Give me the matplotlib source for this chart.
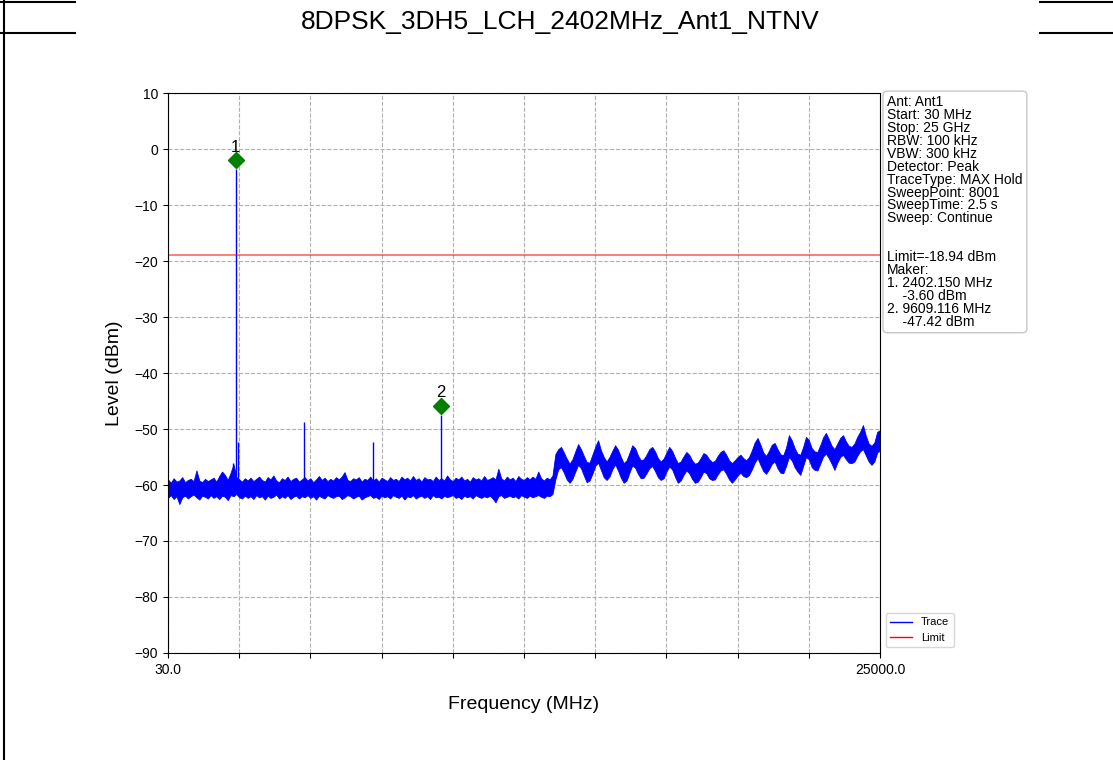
import numpy as np
import matplotlib.pyplot as plt
from matplotlib.lines import Line2D

plt.rcParams['font.family'] = ['Liberation Sans', 'DejaVu Sans']

# sweep: 30 MHz .. 25 GHz, trace envelope (upper / lower edge of the noise band)
freq = np.linspace(30, 25000, 251)

trace_hi = [
    -59.0, -59.6, -58.8, -59.4, -59.2, -58.6, -59.5, -59.1, -58.9, -59.3,
    -57.4, -59.2, -59.5, -58.9, -59.3, -59.0, -58.7, -59.4, -58.4, -57.6,
    -58.2, -59.1, -57.8, -56.3, -58.6, -59.0, -59.4, -58.8, -59.2, -58.7,
    -59.3, -58.9, -58.5, -59.1, -59.4, -58.6, -59.0, -58.3, -59.2, -59.5,
    -58.8, -59.1, -58.5, -59.3, -58.9, -58.7, -59.4, -59.0, -58.6, -59.2,
    -58.8, -59.5, -59.0, -58.4, -59.1, -58.7, -59.3, -58.9, -59.2, -58.6,
    -59.0, -58.5, -57.7, -59.1, -59.3, -58.8, -59.0, -58.6, -59.4, -58.9,
    -59.1, -58.5, -59.2, -58.8, -59.4, -58.7, -59.0, -59.3, -58.6, -59.1,
    -58.9, -59.3, -58.5, -59.0, -58.7, -59.2, -58.4, -59.1, -58.8, -59.4,
    -58.6, -59.0, -58.9, -59.3, -58.5, -59.1, -58.8, -59.2, -58.3, -59.0,
    -59.3, -58.7, -59.0, -58.5, -59.2, -58.9, -59.4, -58.6, -59.0, -58.8,
    -59.2, -58.4, -59.1, -58.9, -58.6, -59.0, -57.1, -58.8, -59.2, -58.5,
    -59.0, -58.7, -59.3, -58.4, -58.9, -59.1, -58.6, -59.0, -58.5, -58.9,
    -57.6, -58.8, -59.2, -58.7, -59.0, -58.3,
    -54.5, -53.6, -53.2, -54.2, -55.3, -56.2, -55.4, -54.0, -52.7, -53.6,
    -54.8, -55.9, -56.0, -54.6, -53.2, -52.0, -53.8, -55.0, -55.8, -55.0,
    -53.9, -52.9, -53.7, -55.0, -56.1, -55.6, -54.3, -52.9, -53.4, -54.7,
    -55.6, -55.4, -54.6, -53.6, -53.2, -54.0, -55.2, -55.8, -55.3, -54.2,
    -53.2, -53.9, -55.1, -56.1, -55.8, -54.9, -54.1, -54.6, -55.6, -56.2,
    -56.0, -55.2, -54.3, -54.6, -55.4, -55.9, -55.7, -54.8, -54.1, -53.8,
    -54.6, -55.6, -56.1, -55.6, -55.0, -54.6, -55.2, -55.6, -55.0, -53.8,
    -52.4, -51.6, -52.8, -54.2, -54.8, -53.9, -52.8, -52.5, -53.6, -54.5,
    -54.7, -53.3, -51.1, -52.0, -53.4, -54.4, -54.6, -53.2, -51.4, -52.0,
    -53.4, -54.0, -54.1, -52.9, -51.5, -50.7, -51.8, -53.0, -53.6, -52.6,
    -51.6, -51.1, -52.2, -53.0, -53.2, -52.6, -51.4, -50.5, -49.3, -51.2,
    -52.6, -53.0, -52.4, -50.5, -50.2,
]

trace_lo = [
    -62.3, -61.8, -62.5, -62.0, -63.4, -62.2, -61.9, -62.4, -62.0, -61.7,
    -62.2, -62.6, -61.9, -62.1, -62.4, -61.8, -62.3, -62.0, -62.5, -61.9,
    -62.1, -62.7, -61.8, -62.0, -61.6, -62.2, -62.4, -61.9, -62.3, -62.0,
    -62.5, -61.8, -62.2, -62.0, -62.6, -61.9, -62.3, -62.1, -61.7, -62.4,
    -62.0, -62.3, -61.8, -62.5, -62.1, -61.9, -62.4, -62.0, -62.2, -61.8,
    -62.3, -62.0, -62.6, -61.9, -62.2, -62.4, -61.8, -62.1, -62.3, -62.0,
    -61.9, -62.5, -62.2, -61.8, -62.0, -62.4, -62.1, -61.9, -62.6, -62.2,
    -62.0, -61.8, -62.3, -62.1, -62.5, -61.9, -62.2, -62.0, -62.4, -61.8,
    -62.1, -62.3, -61.9, -62.6, -62.0, -62.2, -61.8, -62.4, -62.1, -61.9,
    -62.3, -62.0, -62.5, -61.8, -62.2, -62.1, -62.4, -61.9, -62.2, -62.0,
    -61.8, -62.3, -62.1, -62.5, -61.9, -62.2, -62.0, -62.4, -61.8, -62.1,
    -62.3, -62.0, -62.2, -61.9, -62.4, -63.1, -62.0, -61.8, -62.3, -62.1,
    -61.9, -62.2, -62.0, -62.4, -61.8, -62.1, -62.3, -61.9, -62.2, -62.0,
    -61.8, -62.1, -62.3, -61.9, -62.0, -61.6,
    -59.0, -57.2, -56.8, -57.8, -59.0, -59.6, -58.9, -57.6, -56.4, -57.0,
    -58.3, -59.5, -59.2, -58.0, -56.6, -56.0, -57.3, -58.6, -59.1, -58.5,
    -57.2, -56.3, -57.4, -58.7, -59.6, -59.2, -57.8, -56.5, -56.9, -58.0,
    -58.8, -58.7, -57.9, -57.0, -56.6, -57.5, -58.6, -59.1, -58.8, -57.6,
    -56.7, -57.2, -58.5, -59.6, -59.2, -58.2, -57.4, -57.9, -58.9, -59.6,
    -59.4, -58.6, -57.6, -57.9, -58.8, -59.1, -59.0, -58.1, -57.4, -57.2,
    -58.0, -59.0, -59.6, -59.0, -58.3, -57.8, -58.4, -58.6, -58.2, -57.2,
    -56.0, -55.2, -56.4, -57.5, -58.0, -57.2, -56.2, -55.8, -57.0, -57.8,
    -57.9, -56.6, -55.0, -55.6, -56.8, -57.6, -58.2, -56.6, -55.0, -55.4,
    -56.8, -57.3, -57.4, -56.2, -54.9, -54.4, -55.2, -56.2, -57.3, -56.0,
    -55.0, -54.6, -55.4, -56.0, -56.1, -55.8, -54.8, -54.0, -53.6, -54.7,
    -55.8, -56.4, -55.8, -54.2, -53.8,
]

# narrow spurs / carrier harmonics
spur_freq = [2300.0, 2402.15, 2480.0, 4804.0, 7206.0, 9609.116]
spur_level = [-56.0, -3.60, -52.4, -48.8, -52.3, -47.42]

marker_freq = [2402.150, 9609.116]
marker_level = [-3.60, -47.42]
marker_name = ['1', '2']

limit = -18.94

info = ("Ant: Ant1\nStart: 30 MHz\nStop: 25 GHz\nRBW: 100 kHz\nVBW: 300 kHz\n"
        "Detector: Peak\nTraceType: MAX Hold\nSweepPoint: 8001\nSweepTime: 2.5 s\n"
        "Sweep: Continue\n\n\nLimit=-18.94 dBm\nMaker:\n1. 2402.150 MHz\n    -3.60 dBm\n"
        "2. 9609.116 MHz\n    -47.42 dBm")

fig = plt.figure(figsize=(11.13, 7.6), dpi=100)
ax = fig.add_axes([0.1509, 0.1408, 0.6398, 0.7368])

ax.fill_between(freq, trace_lo, trace_hi, color='blue', lw=0.6, zorder=2)
ax.vlines(spur_freq, -60.5, spur_level, colors='blue', lw=1.0, zorder=2)
ax.axhline(limit, color='red', lw=1.2, alpha=0.6)

for f, lv, name in zip(marker_freq, marker_level, marker_name):
    ax.plot(f, lv + 1.6, marker='D', color='green', ms=8, ls='none', zorder=3)
    ax.annotate(name, (f, lv + 1.6), xytext=(0, 4), textcoords='offset points',
                ha='center', va='bottom', fontsize=12)

ax.set_xlim(30, 25000)
ax.set_ylim(-90, 10)
xt = np.linspace(30, 25000, 11)
ax.set_xticks(xt)
ax.set_xticklabels(['30.0'] + [''] * 9 + ['25000.0'], fontsize=10)
ax.set_yticks(np.arange(-90, 11, 10))
ax.tick_params(axis='y', labelsize=10)
ax.grid(True, ls='--', color='#b0b0b0', lw=0.8)
ax.set_xlabel('Frequency (MHz)', fontsize=14, labelpad=14)
ax.set_ylabel('Level (dBm)', fontsize=14, labelpad=8)

ax.text(1.010, 0.996, info, transform=ax.transAxes, va='top', ha='left', fontsize=10,
        linespacing=0.9,
        bbox=dict(boxstyle='round,pad=0.3', fc='white', ec='#c8c8c8'))

handles = [Line2D([], [], color='blue', lw=1), Line2D([], [], color='red', lw=1)]
ax.legend(handles, ['Trace', 'Limit'], loc='lower left', bbox_to_anchor=(1.0, 0.0),
          fontsize=8)

fig.text(0.503, 0.971, '8DPSK_3DH5_LCH_2402MHz_Ant1_NTNV', ha='center', va='center', fontsize=19)

# document table borders around the chart
fig.add_artist(Line2D([4 / 1113, 4 / 1113], [0, 1], color='black', lw=1.5))
for yy in [1 - 2 / 760, 1 - 33 / 760]:
    fig.add_artist(Line2D([0, 75 / 1113], [yy, yy], color='black', lw=1.5))
    fig.add_artist(Line2D([1040 / 1113, 1], [yy, yy], color='black', lw=1.5))

fig.savefig('out.png', dpi=100)
